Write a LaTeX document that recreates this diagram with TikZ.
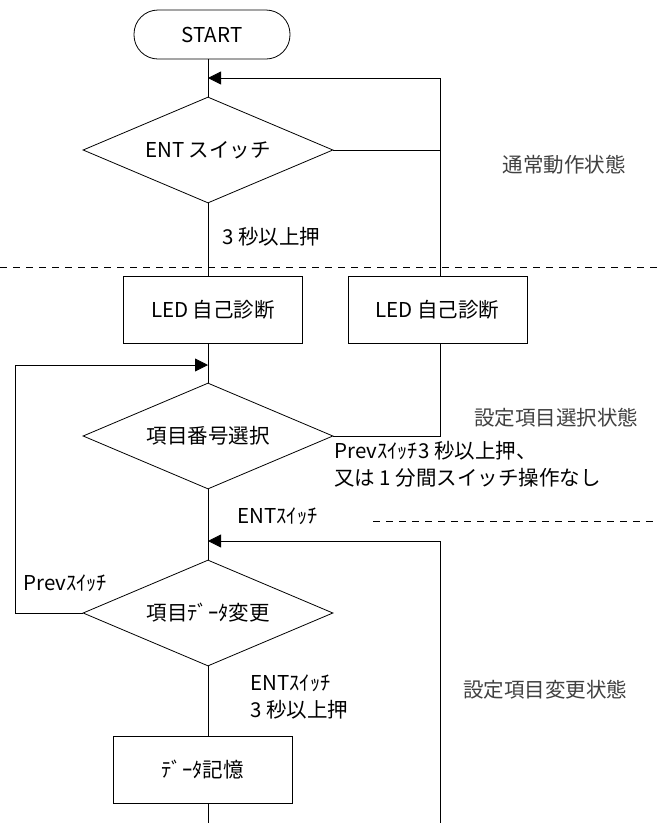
\documentclass[tikz,border=0pt]{standalone}
\usepackage{fontspec}
\setmainfont{Noto Sans CJK JP}
\usepackage{xcolor}
\usepackage{tikz}
\usetikzlibrary{shapes.geometric, arrows.meta, calc}
\definecolor{statecol}{HTML}{404040}
\tikzset{
  every node/.style={font=\fontsize{20.5}{27}\selectfont, inner sep=0pt},
  terminal/.style={draw, rounded corners=24pt, minimum width=156pt, minimum height=49pt},
  decision/.style={draw, diamond, aspect=2.36, minimum width=250pt, minimum height=106pt},
  process/.style={draw, rectangle, minimum width=179pt, minimum height=67pt},
  statelabel/.style={text=statecol},
  arr/.style={-{Triangle[length=13pt, width=13pt]}},
  sep/.style={dashed, dash pattern=on 7pt off 6pt}
}
\begin{document}
\begin{tikzpicture}[x=1pt, y=-1pt, line width=0.8pt]
\useasboundingbox (0,0) rectangle (658,823);
% flow chart nodes
\node[terminal] (start) at (212,34.5) {START};
\node[decision] (d1) at (208,150) {ENT スイッチ};
\node[process] (lb1) at (213,309.5) {LED 自己診断};
\node[process] (lb2) at (437.5,309.5) {LED 自己診断};
\node[decision] (d2) at (208,436) {項目番号選択};
\node[decision] (d3) at (208,613) {項目ﾃﾞｰﾀ変更};
\node[process] (store) at (202.5,769.5) {ﾃﾞｰﾀ記憶};

% corners of the return lines
\coordinate (j1) at (440,78);
\coordinate (j2) at (440,150);
\coordinate (j3) at (15,365);
\coordinate (j4) at (440,541);
\coordinate (e1) at (440,823);
\coordinate (e2) at (208,823);

% connectors
\draw (d1.north |- start.south) -- (d1.north);
\draw[arr] (d1.east) -- (j2) -- (j1) -- (d1.north |- j1);
\draw (j2) -- (j2 |- lb2.north);
\draw (j2 |- lb2.south) -- (j2 |- d2.east) -- (d2.east);
\draw (d1.south) -- (d1.south |- lb1.north);
\draw (d2.north |- lb1.south) -- (d2.north);
\draw[arr] (d3.west) -- (j3 |- d3.west) -- (j3) -- (d2.north |- j3);
\draw (d2.south) -- (d3.north);
\draw[arr] (e1) -- (j4) -- (d3.north |- j4);
\draw (d3.south) -- (d3.south |- store.north);
\draw (d3.south |- store.south) -- (e2);

% state borders
\coordinate (s1a) at (0,267);
\coordinate (s1b) at (658,267);
\coordinate (s2a) at (373,521);
\coordinate (s2b) at (658,521);
\draw[sep] (s1a) -- (s1b);
\draw[sep] (s2a) -- (s2b);

% branch labels
\node[anchor=west] (c1) at (222,237) {3 秒以上押};
\node[anchor=west, align=left] (c2) at (334,464.5) {Prevｽｲｯﾁ3 秒以上押、\\又は 1 分間スイッチ操作なし};
\node[anchor=west] (c3) at (237,516) {ENTｽｲｯﾁ};
\node[anchor=west] (c4) at (23,583) {Prevｽｲｯﾁ};
\node[anchor=west, align=left] (c5) at (250,696.5) {ENTｽｲｯﾁ\\3 秒以上押};

% state names
\node[statelabel] (n1) at (564,165) {通常動作状態};
\node[statelabel] (n2) at (556,418) {設定項目選択状態};
\node[statelabel] (n3) at (545,690) {設定項目変更状態};
\end{tikzpicture}
\end{document}
